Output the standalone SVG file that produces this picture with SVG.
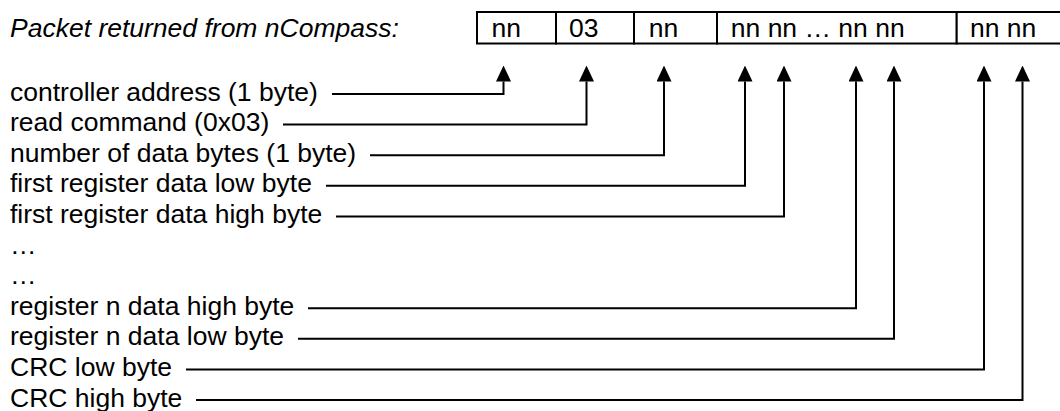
<svg xmlns="http://www.w3.org/2000/svg" width="1060" height="411" viewBox="0 0 1060 411">
  <style>
    text { font-family: "Liberation Sans", Arial, sans-serif; font-size: 26.5px; fill: #000; }
    .title { font-style: italic; }
    .cell { fill: #fff; stroke: #000; stroke-width: 2; }
    .conn { fill: none; stroke: #000; stroke-width: 2; stroke-linejoin: miter; marker-end: url(#arrow); }
  </style>
  <defs>
    <marker id="arrow" viewBox="0 0 16 15" refX="0" refY="7.5" markerWidth="16" markerHeight="15" markerUnits="userSpaceOnUse" orient="auto">
      <path d="M0,0 L16,7.5 L0,15 z" fill="#000"/>
    </marker>
  </defs>
  <rect width="1060" height="411" fill="#fff"/>

  <g id="title">
    <text class="title" x="10" y="37">Packet returned from nCompass:</text>
  </g>

  <g id="packet">
    <g id="cell-address">
      <rect class="cell" x="477" y="12" width="79" height="31.5"/>
      <text x="491.5" y="37">nn</text>
    </g>
    <g id="cell-command">
      <rect class="cell" x="556" y="12" width="78" height="31.5"/>
      <text x="569" y="37">03</text>
    </g>
    <g id="cell-count">
      <rect class="cell" x="634" y="12" width="83" height="31.5"/>
      <text x="648.7" y="37">nn</text>
    </g>
    <g id="cell-data">
      <rect class="cell" x="717" y="12" width="239.7" height="31.5"/>
      <text x="730.8" y="37">nn nn … nn nn</text>
    </g>
    <g id="cell-crc">
      <rect class="cell" x="956.7" y="12" width="108" height="31.5"/>
      <text x="970" y="37">nn nn</text>
    </g>
  </g>

  <g id="label-address"><text x="10" y="100.5">controller address (1 byte)</text></g>
  <g id="label-command"><text x="10" y="131.1">read command (0x03)</text></g>
  <g id="label-count"><text x="10" y="161.7">number of data bytes (1 byte)</text></g>
  <g id="label-first-low"><text x="10" y="192.3">first register data low byte</text></g>
  <g id="label-first-high"><text x="10" y="222.9">first register data high byte</text></g>
  <g id="label-ellipsis-1"><text x="10" y="253.5">…</text></g>
  <g id="label-ellipsis-2"><text x="10" y="284.1">…</text></g>
  <g id="label-n-high"><text x="10" y="314.7">register n data high byte</text></g>
  <g id="label-n-low"><text x="10" y="345.3">register n data low byte</text></g>
  <g id="label-crc-low"><text x="10" y="375.9">CRC low byte</text></g>
  <g id="label-crc-high"><text x="10" y="406.5">CRC high byte</text></g>

  <g id="connectors">
    <path class="conn" d="M332,94 H503.5 V81.5"/>
    <path class="conn" d="M283,124.6 H586.5 V81.5"/>
    <path class="conn" d="M370,155.2 H664 V81.5"/>
    <path class="conn" d="M326,185.8 H745 V81.5"/>
    <path class="conn" d="M336,216.4 H784 V81.5"/>
    <path class="conn" d="M308,308.2 H856 V81.5"/>
    <path class="conn" d="M298,338.8 H894 V81.5"/>
    <path class="conn" d="M186,369.4 H984 V81.5"/>
    <path class="conn" d="M196,400 H1022.5 V81.5"/>
  </g>
</svg>
